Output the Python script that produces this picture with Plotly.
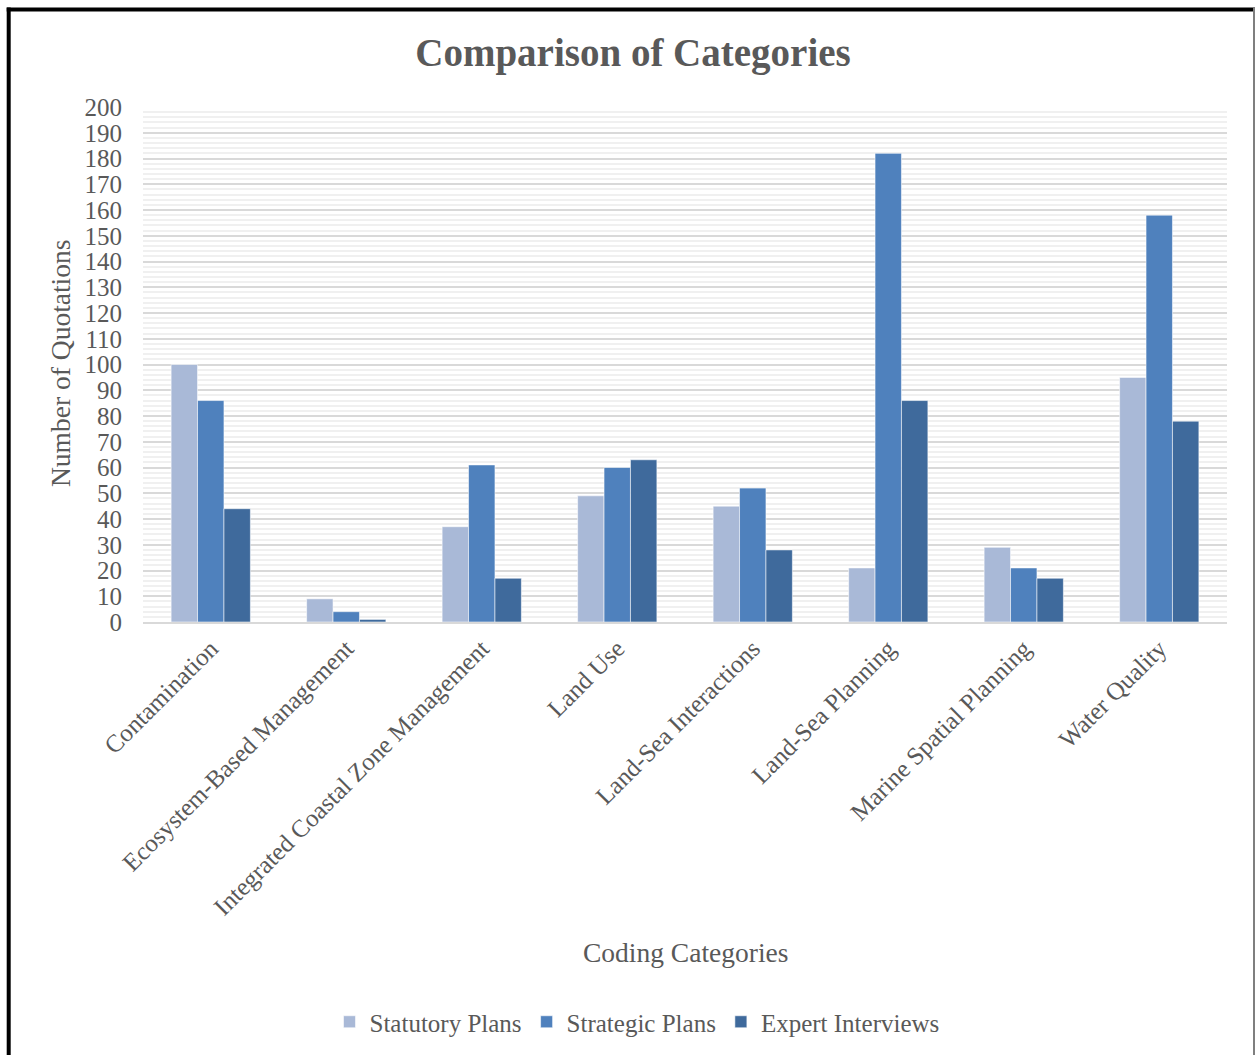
import plotly.graph_objects as go

categories = ["Contamination", "Ecosystem-Based Management", "Integrated Coastal Zone Management",
              "Land Use", "Land-Sea Interactions", "Land-Sea Planning",
              "Marine Spatial Planning", "Water Quality"]
statutory = [100, 9, 37, 49, 45, 21, 29, 95]
strategic = [86, 4, 61, 60, 52, 182, 21, 158]
expert = [44, 1, 17, 63, 28, 86, 17, 78]
series_names = ["Statutory Plans", "Strategic Plans", "Expert Interviews"]
colors = ["#A9B9D7", "#4F81BD", "#3F6A9C"]

W, H = 1255, 1055
L, R, T, B = 143, 1227, 107, 622  # plot area pixels

def px_x(p):
    return (p - L) / (R - L)

def px_y(p):
    return (B - p) / (B - T)

FONT = "Liberation Serif"
GREY = "#595959"

fig = go.Figure()
for name, vals, c in zip(series_names, [statutory, strategic, expert], colors):
    fig.add_trace(go.Bar(x=categories, y=vals, name=name, marker_color=c,
                         marker_line=dict(color="rgba(255,255,255,0.55)", width=1)))

fig.update_layout(
    width=W, height=H,
    margin=dict(l=L, r=W - R, t=T, b=H - B, autoexpand=False),
    paper_bgcolor="white", plot_bgcolor="white",
    barmode="group", bargap=0.415, bargroupgap=0,
    font=dict(family=FONT, color=GREY, size=25),
    title=dict(text="<b>Comparison of Categories</b>", x=633 / W, xanchor="center",
               y=1 - 52 / H, yanchor="middle", font=dict(size=39, color=GREY, family=FONT)),
    showlegend=True,
    legend=dict(orientation="h", x=px_x(637), xanchor="center", y=px_y(1022), yanchor="middle",
                font=dict(size=25, color=GREY), itemwidth=30, traceorder="normal"),
    xaxis=dict(tickangle=-45, showgrid=False, showline=True, linecolor="#D9D9D9", linewidth=2,
               ticks="", tickfont=dict(size=25, color=GREY)),
    yaxis=dict(range=[0, 200], dtick=10, tick0=0, showgrid=True, gridcolor="#D9D9D9", gridwidth=2,
               zeroline=False, showline=False, ticks="", ticklabelstandoff=20,
               tickfont=dict(size=25, color=GREY),
               minor=dict(dtick=2, showgrid=True, gridcolor="#F0F0F0", gridwidth=2)),
    annotations=[
        dict(text="Coding Categories", xref="paper", yref="paper", x=px_x(685), y=px_y(952),
             xanchor="center", yanchor="middle", showarrow=False, font=dict(size=27.5, color=GREY)),
        dict(text="Number of Quotations", xref="paper", yref="paper", x=px_x(60), y=px_y(364),
             xanchor="center", yanchor="middle", showarrow=False, textangle=-90,
             font=dict(size=27.5, color=GREY)),
    ],
    shapes=[
        dict(type="line", xref="paper", yref="paper", x0=px_x(6.7), x1=px_x(1256), y0=px_y(9.5), y1=px_y(9.5),
             line=dict(color="black", width=4)),
        dict(type="line", xref="paper", yref="paper", x0=px_x(8.7), x1=px_x(8.7), y0=px_y(7.5), y1=px_y(1060),
             line=dict(color="black", width=4)),
        dict(type="line", xref="paper", yref="paper", x0=px_x(1254), x1=px_x(1254), y0=px_y(7.5), y1=px_y(1060),
             line=dict(color="#7F7F7F", width=2)),
    ],
)

fig.write_html("out.html")
